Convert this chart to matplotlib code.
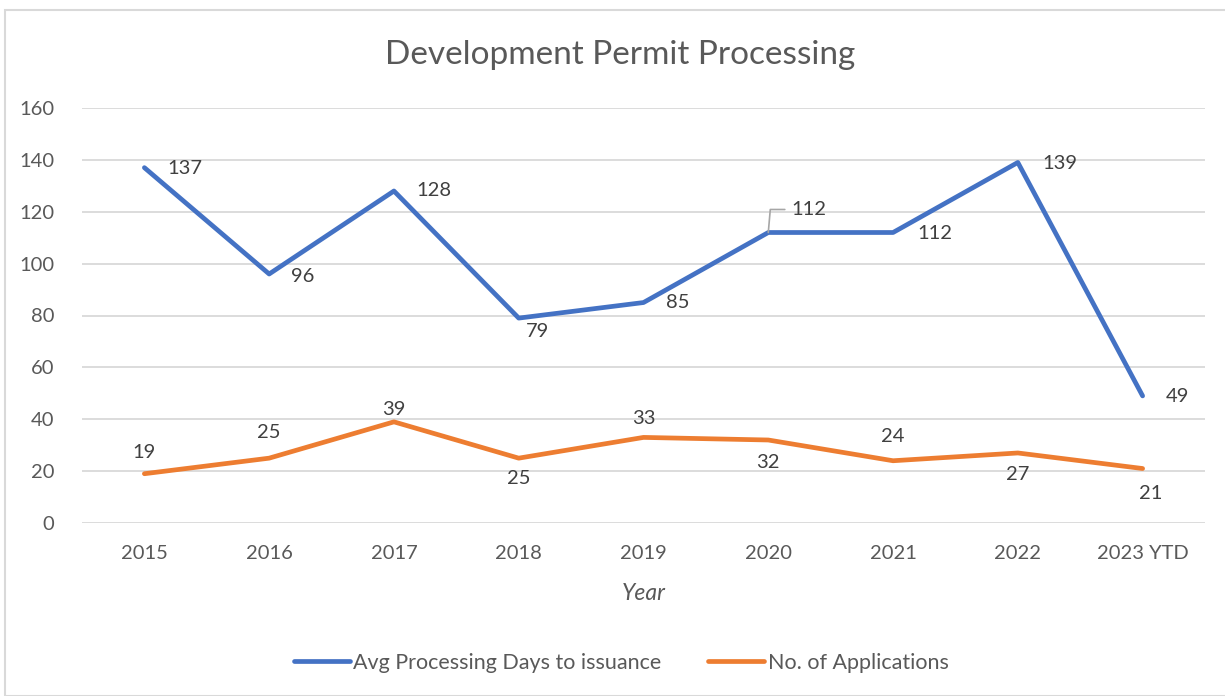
import matplotlib as mpl
mpl.use('Agg')
import matplotlib.pyplot as plt
from matplotlib.patches import Rectangle

years = ['2015', '2016', '2017', '2018', '2019', '2020', '2021', '2022', '2023 YTD']
avg_days = [137, 96, 128, 79, 85, 112, 112, 139, 49]
applications = [19, 25, 39, 25, 33, 32, 24, 27, 21]

# label offsets in pixels (dx, dy)
avg_offsets = [(40, -1), (34, -3), (40, 0), (19, -13), (34, 0), (41, 23), (42, -1), (42, -1), (35, -1)]
app_offsets = [(0, 21), (0, 26), (0, 12), (0, -20), (0, 19), (0, -22), (0, 24), (0, -22), (8, -25)]

plt.rcParams['font.family'] = ['Lato', 'DejaVu Sans']

blue = '#4472C4'
orange = '#ED7D31'
txt = '#595959'

fig = plt.figure(figsize=(12.25, 6.96), dpi=100)
fig.patches.append(Rectangle((5 / 1225, 0), 1.2, 1 - 10 / 696, transform=fig.transFigure,
                             fill=False, edgecolor='#d9d9d9', linewidth=1.5))
ax = fig.add_axes([82 / 1225, 1 - 523 / 696, 1123 / 1225, 415 / 696])

x = list(range(len(years)))
ax.plot(x, avg_days, color=blue, linewidth=3.4, solid_capstyle='round', label='Avg Processing Days to issuance')
ax.plot(x, applications, color=orange, linewidth=3.4, solid_capstyle='round', label='No. of Applications')

for i, v in enumerate(avg_days):
    dx, dy = avg_offsets[i]
    if i == 5:
        ax.annotate(str(v), (i, v), xytext=(dx, dy), textcoords='offset pixels',
                    ha='center', va='center', fontsize=14.5, color='#404040',
                    arrowprops=dict(arrowstyle='-', color='#a6a6a6', lw=1.2,
                                    connectionstyle='angle,angleA=180,angleB=85,rad=0',
                                    relpos=(0, 0.5), shrinkA=3, shrinkB=0))
    else:
        ax.annotate(str(v), (i, v), xytext=(dx, dy), textcoords='offset pixels',
                    ha='center', va='center', fontsize=14.5, color='#404040')
for i, v in enumerate(applications):
    dx, dy = app_offsets[i]
    ax.annotate(str(v), (i, v), xytext=(dx, dy), textcoords='offset pixels',
                ha='center', va='center', fontsize=14.5, color='#404040')

ax.set_xlim(-0.5, len(years) - 0.5)
ax.set_ylim(0, 160)
ax.set_yticks(range(0, 161, 20))
ax.set_xticks(x)
ax.set_xticklabels(years)
ax.grid(axis='y', color='#d9d9d9', linewidth=1.3)
ax.set_axisbelow(True)
for s in ax.spines.values():
    s.set_visible(False)
ax.tick_params(axis='both', length=0, labelsize=14.5, labelcolor=txt)
ax.tick_params(axis='y', pad=20)
ax.tick_params(axis='x', pad=16)
ax.set_xlabel('Year', fontsize=16.5, color=txt, style='italic', labelpad=15)

fig.text(620 / 1225, 1 - 55 / 696, 'Development Permit Processing', ha='center', va='center',
         fontsize=24, color=txt)

fig.legend(loc='center', bbox_to_anchor=(621 / 1225, 1 - 663 / 696), ncol=2, frameon=False,
           fontsize=15.5, labelcolor=txt, handlelength=2.6, handletextpad=0.15, columnspacing=2.2)

plt.savefig('out.png', dpi=100)
